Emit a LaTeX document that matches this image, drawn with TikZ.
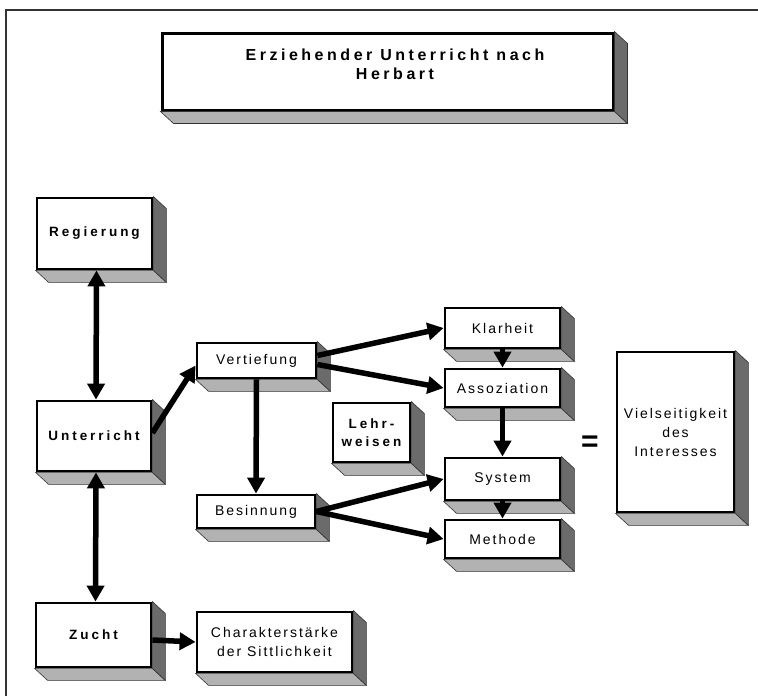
\documentclass[tikz,border=0pt]{standalone}
\usepackage{fontspec}
\setmainfont{Liberation Sans}
\usetikzlibrary{arrows.meta,calc}
\definecolor{facelight}{gray}{0.70}
\definecolor{facedark}{gray}{0.42}
\begin{document}
\begin{tikzpicture}[x=1pt,y=-1pt,
 box/.style={draw=black,line width=2.8pt,fill=white,inner sep=0pt,align=center},
 lbl/.style={font=\fontsize{14}{19}\selectfont\addfontfeature{LetterSpace=14}},
 blbl/.style={font=\fontsize{13.5}{18}\bfseries\selectfont\addfontfeature{LetterSpace=22}},
 tlbl/.style={font=\fontsize{16}{19}\bfseries\selectfont\addfontfeature{LetterSpace=22}},
 arr/.style={line width=5.5pt,-{Triangle[length=16pt,width=17pt]}},
 darr/.style={line width=5.5pt,{Triangle[length=16pt,width=17pt]}-{Triangle[length=16pt,width=17pt]}},
 sidel/.style={fill=facelight,draw=black!80,line width=0.6pt},
 sided/.style={fill=facedark,draw=black!80,line width=0.6pt},
]
\useasboundingbox (0,0) rectangle (758,696);
\draw[line width=1.5pt,black!80] (6,696) -- (6,10) -- (758,10);

% nodes
\node[box,line width=3pt,minimum width=451,minimum height=77] (title) at (387.5,71.5) {};
\node[tlbl,align=center] (titletext) at (395,64) {Erziehender Unterricht nach\\Herbart};
\node[box,blbl,minimum width=115,minimum height=71] (reg) at (94.5,233.5) {Regierung};
\node[box,blbl,minimum width=114,minimum height=70] (unt) at (94,436) {Unterricht};
\node[box,blbl,minimum width=115,minimum height=64] (zucht) at (93.5,635) {Zucht};
\node[box,lbl,minimum width=155,minimum height=60] (char) at (274.5,642) {Charakterstärke\\der Sittlichkeit};
\node[box,lbl,minimum width=119,minimum height=35] (vert) at (256.5,360.5) {Vertiefung};
\node[box,lbl,minimum width=118,minimum height=33] (bes) at (256,511.5) {Besinnung};
\node[box,lbl,minimum width=115,minimum height=40] (klar) at (502.5,328) {Klarheit};
\node[box,lbl,minimum width=115,minimum height=38] (asso) at (502.5,388) {Assoziation};
\node[box,lbl,minimum width=115,minimum height=42] (sys) at (502.5,479) {System};
\node[box,lbl,minimum width=115,minimum height=38] (meth) at (502.5,539) {Methode};
\node[box,blbl,minimum width=77,minimum height=59] (lehr) at (371.5,432.5) {Lehr-\\weisen};
\node[box,lbl,minimum width=117,minimum height=160] (viel) at (675.5,432) {Vielseitigkeit\\des\\Interesses};
\node[font=\fontsize{30}{30}\bfseries\selectfont] (eq) at (590,444) {=};

% 3D extrusions
\foreach \n in {title,reg,unt,zucht,char,vert,bes,klar,asso,sys,meth,lehr,viel}{
  \path[sidel] (\n.south west) -- (\n.south east) -- ([shift={(13,12)}]\n.south east) -- ([shift={(13,12)}]\n.south west) -- cycle;
  \path[sided] (\n.north east) -- ([shift={(13,12)}]\n.north east) -- ([shift={(13,12)}]\n.south east) -- (\n.south east) -- cycle;
}

% connectors
\draw[darr] ([shift={(2,0)}]reg.south) -- ([shift={(2,0)}]unt.north);
\draw[darr] ([shift={(2,0)}]unt.south) -- ([shift={(2,0)}]zucht.north);
\draw[arr] ([shift={(0,-3)}]unt.east) -- ([shift={(0,5)}]vert.west);
\draw[arr] ([shift={(0,-5)}]vert.east) -- (klar.west);
\draw[arr] ([shift={(0,4)}]vert.east) -- (asso.west);
\draw[arr] (vert.south) -- (bes.north);
\draw[arr] (klar.south) -- (asso.north);
\draw[arr] (asso.south) -- (sys.north);
\draw[arr] (sys.south) -- (meth.north);
\draw[arr] (bes.east) -- (sys.west);
\draw[arr] (bes.east) -- (meth.west);
\draw[arr] ([shift={(0,5)}]zucht.east) -- (char.west);
\end{tikzpicture}
\end{document}
